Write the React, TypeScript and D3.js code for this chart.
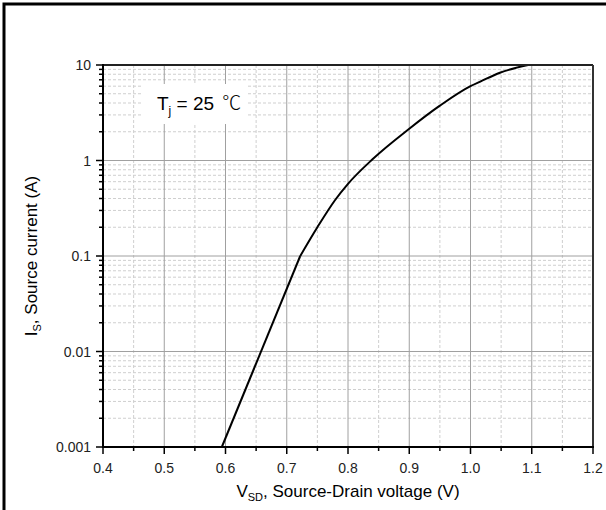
import React from "react";
import * as d3 from "d3";

const vsd = [0.594, 0.722, 0.75, 0.779, 0.8, 0.84, 0.9, 0.95, 1.0, 1.016, 1.048, 1.094];
const isrc = [0.001, 0.1, 0.2, 0.386, 0.57, 1.03, 2.15, 3.75, 6.0, 6.7, 8.3, 10];
const xTicks = [0.4, 0.5, 0.6, 0.7, 0.8, 0.9, 1.0, 1.1, 1.2];
const xTickLabels = ["0.4", "0.5", "0.6", "0.7", "0.8", "0.9", "1.0", "1.1", "1.2"];
const yTicks = [10, 1, 0.1, 0.01, 0.001];
const yTickLabels = ["10", "1", "0.1", "0.01", "0.001"];

const W = 606;
const H = 510;
const L = 103, R = 593, T = 65, B = 447;
const FONT = "'Liberation Sans', Arial, sans-serif";

export default function App() {
  const x = d3.scaleLinear().domain([0.4, 1.2]).range([L, R]);
  const y = d3.scaleLog().domain([0.001, 10]).range([B, T]);

  const xMinor = d3.range(0.45, 1.2, 0.1);
  const yMinor: number[] = [];
  [0.001, 0.01, 0.1, 1].forEach((d) => {
    for (let k = 2; k <= 9; k++) yMinor.push(d * k);
  });

  const pts = vsd.map((v, i) => [v, isrc[i]] as [number, number]);
  const lower = pts.slice(0, 2);
  const upper = pts.slice(1);
  const lineLin = d3
    .line<[number, number]>()
    .x((d) => x(d[0]))
    .y((d) => y(d[1]));
  const lineCurve = d3
    .line<[number, number]>()
    .x((d) => x(d[0]))
    .y((d) => y(d[1]))
    .curve(d3.curveMonotoneX);

  return (
    <div style={{ position: "fixed", left: 0, top: 0 }}>
      <svg width={W} height={H} style={{ display: "block", background: "#fff" }}>
        <rect x={0} y={0} width={W} height={H} fill="#fff" />
        <rect x={4} y={4} width={700} height={700} fill="none" stroke="#000" strokeWidth={3} />

        {/* minor grid */}
        {xMinor.map((v, i) => (
          <line key={"xm" + i} x1={x(v)} x2={x(v)} y1={T} y2={B} stroke="#cfcfcf" strokeWidth={1} strokeDasharray="3,2" />
        ))}
        {yMinor.map((v, i) => (
          <line key={"ym" + i} x1={L} x2={R} y1={y(v)} y2={y(v)} stroke="#cfcfcf" strokeWidth={1} strokeDasharray="3,2" />
        ))}
        {/* major grid */}
        {xTicks.slice(1, -1).map((v, i) => (
          <line key={"xM" + i} x1={x(v)} x2={x(v)} y1={T} y2={B} stroke="#a0a0a0" strokeWidth={1} />
        ))}
        {yTicks.slice(1, -1).map((v, i) => (
          <line key={"yM" + i} x1={L} x2={R} y1={y(v)} y2={y(v)} stroke="#a0a0a0" strokeWidth={1} />
        ))}

        {/* label box */}
        <rect x={143} y={84} width={103} height={40} fill="#fff" />
        <text x={157} y={110} fontFamily={FONT} fontSize={19} fill="#000">
          T
          <tspan fontSize={12} dy={5}>j</tspan>
          <tspan dy={-5}> = 25 </tspan>
          <tspan dx={3} fontFamily="'Noto Sans CJK SC', 'DejaVu Sans'" fontWeight={300}>℃</tspan>
        </text>

        {/* curve */}
        <path d={lineLin(lower) || ""} fill="none" stroke="#000" strokeWidth={2} />
        <path d={lineCurve(upper) || ""} fill="none" stroke="#000" strokeWidth={2} />

        {/* frame */}
        <line x1={L} x2={R} y1={T} y2={T} stroke="#222" strokeWidth={2} />
        <line x1={R} x2={R} y1={T} y2={B} stroke="#333" strokeWidth={2} />
        <line x1={L} x2={L} y1={T - 1} y2={B + 1} stroke="#000" strokeWidth={2} />
        <line x1={L - 1} x2={R + 1} y1={B} y2={B} stroke="#000" strokeWidth={2} />

        {/* ticks */}
        {xTicks.map((v, i) => (
          <line key={"xt" + i} x1={x(v)} x2={x(v)} y1={B} y2={B + 7} stroke="#000" strokeWidth={1.5} />
        ))}
        {xMinor.map((v, i) => (
          <line key={"xmt" + i} x1={x(v)} x2={x(v)} y1={B} y2={B + 4} stroke="#000" strokeWidth={1.5} />
        ))}
        {yTicks.map((v, i) => (
          <line key={"yt" + i} x1={L - 7} x2={L} y1={y(v)} y2={y(v)} stroke="#000" strokeWidth={1.5} />
        ))}
        {yMinor.map((v, i) => (
          <line key={"ymt" + i} x1={L - 4} x2={L} y1={y(v)} y2={y(v)} stroke="#000" strokeWidth={1.5} />
        ))}

        {/* tick labels */}
        {xTicks.map((v, i) => (
          <text key={"xl" + i} x={x(v)} y={473} textAnchor="middle" fontFamily={FONT} fontSize={14} fill="#222">
            {xTickLabels[i]}
          </text>
        ))}
        {yTicks.map((v, i) => (
          <text key={"yl" + i} x={91} y={y(v) + 5} textAnchor="end" fontFamily={FONT} fontSize={14} fill="#222">
            {yTickLabels[i]}
          </text>
        ))}

        {/* axis titles */}
        <text x={(L + R) / 2} y={497} textAnchor="middle" fontFamily={FONT} fontSize={17} fill="#000">
          V<tspan fontSize={11} dy={4}>SD</tspan>
          <tspan dy={-4}>, Source-Drain voltage (V)</tspan>
        </text>
        <text
          transform={`translate(37, ${(T + B) / 2}) rotate(-90)`}
          textAnchor="middle"
          fontFamily={FONT}
          fontSize={17}
          fill="#000"
        >
          I<tspan fontSize={11} dy={4}>S</tspan>
          <tspan dy={-4}>, Source current (A)</tspan>
        </text>
      </svg>
    </div>
  );
}
